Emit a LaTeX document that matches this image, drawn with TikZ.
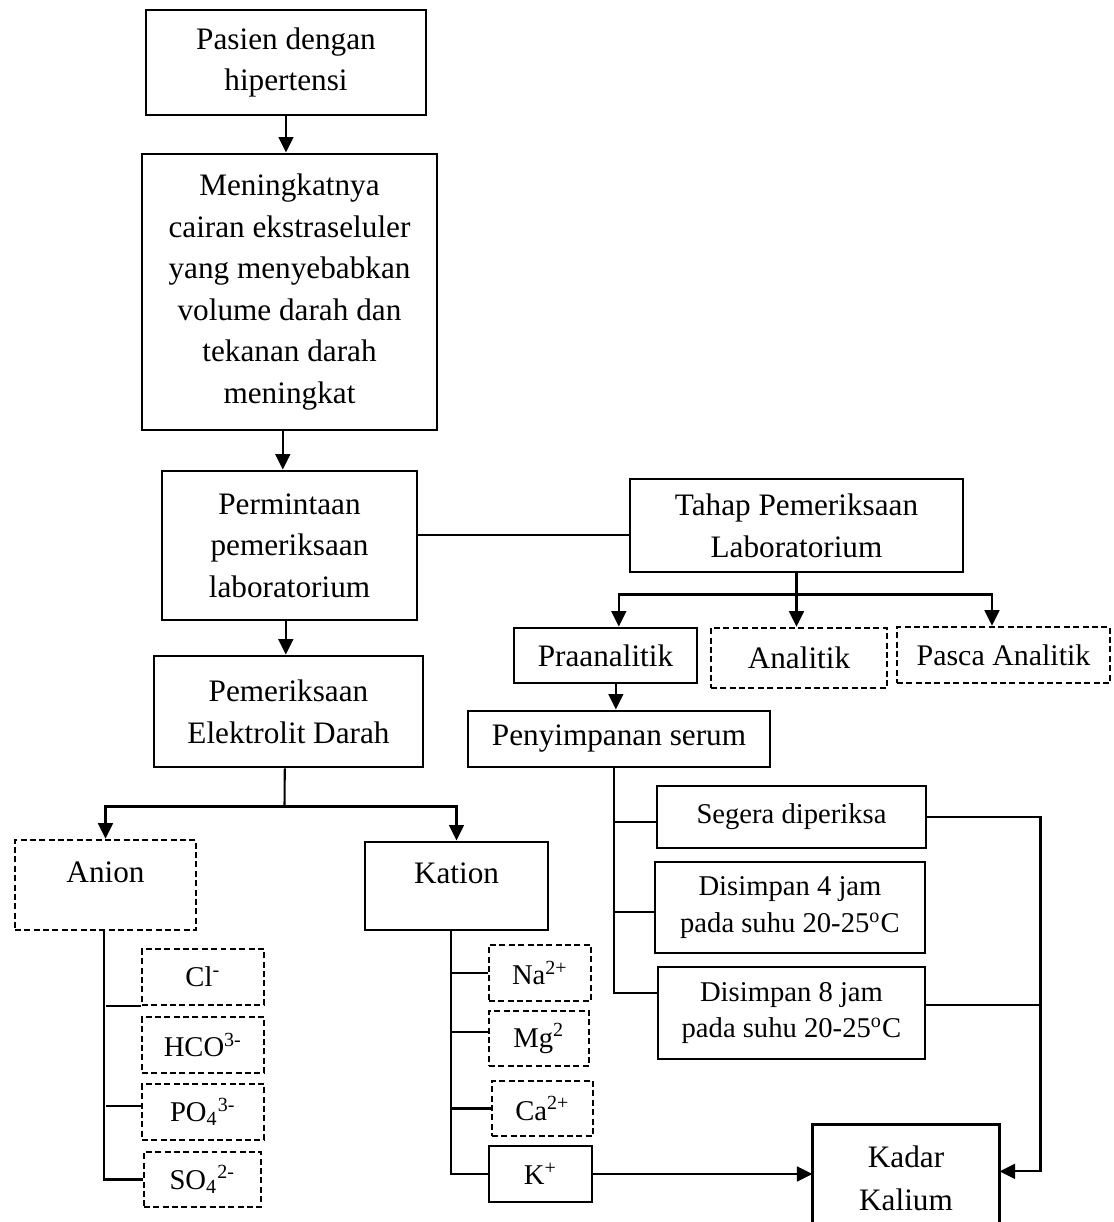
\documentclass[tikz,border=0pt]{standalone}
\usepackage{fontspec}
\setmainfont{Liberation Serif}
\usetikzlibrary{arrows.meta,positioning,calc}

\begin{document}
\begin{tikzpicture}[
  x=0.0135cm, y=-0.0135cm,
  box/.style={draw, line width=1.1pt, align=center, inner sep=0pt, font=\fontsize{12}{16}\selectfont},
  dbox/.style={box, line width=0.95pt, dash pattern=on 2.3pt off 1.3pt},
  small/.style={font=\fontsize{11}{14.2}\selectfont},
  sz/.style 2 args={minimum width=#1*0.0135cm, minimum height=#2*0.0135cm},
  arr/.style={-{Triangle[length=2.1mm,width=2mm]}, line width=0.85pt},
  line/.style={line width=0.8pt}
]
\useasboundingbox (0,0) rectangle (1113,1222);

% ================= MAIN CHAIN =================
\node[box, sz={280}{105}] (pasien) at (286,62.5) {Pasien dengan\\hipertensi};
\node[box, sz={295}{276}] (naik) at (289.5,292) {Meningkatnya\\cairan ekstraseluler\\yang menyebabkan\\volume darah dan\\tekanan darah\\meningkat};
\node[box, sz={255}{149}] (minta) at (289.5,545.5) {Permintaan\\pemeriksaan\\laboratorium};
\node[box, sz={269}{111}] (elek) at (288.5,711.5) {Pemeriksaan\\Elektrolit Darah};

\draw[arr] (pasien.south) -- (pasien.south |- naik.north);
\draw[arr] ([xshift=-0.09cm]naik.south) -- ([xshift=-0.09cm]naik.south |- minta.north);
\draw[arr] ([xshift=-0.05cm]minta.south) -- ([xshift=-0.05cm]minta.south |- elek.north);

% --- anion / kation ---
\node[dbox, sz={181}{90}, text height=0.3cm, text depth=0.36cm] (anion) at (105.5,885) {Anion};
\node[box, sz={183}{88}, text height=0.3cm, text depth=0.36cm] (kation) at (456.5,886) {Kation};

\coordinate (ebar) at ($(elek.south)+(-4,38)$);
\draw[line] ([xshift=-0.05cm]elek.south) -- (ebar);
\draw[arr] (ebar) -| (anion.north);
\draw[arr] (ebar) -| (kation.north);

\node[dbox, small, sz={122}{56}] (cl) at (203,977) {Cl\textsuperscript{-}};
\node[dbox, small, sz={122}{56}] (hco) at (203,1045) {HCO\textsuperscript{3-}};
\node[dbox, small, sz={122}{56}] (po) at (203,1112) {PO\textsubscript{4}\textsuperscript{3-}};
\node[dbox, small, sz={117}{55}] (so) at (202.5,1179.5) {SO\textsubscript{4}\textsuperscript{2-}};

\draw[line] ([xshift=-0.02cm]anion.south) |- (so.west);
\draw[line] (cl.south west) -- (cl.south west -| anion.south);
\draw[line] ([yshift=0.08cm]po.west) -- ([yshift=0.08cm]po.west -| anion.south);

\node[dbox, small, sz={102}{56}] (na) at (540,973) {Na\textsuperscript{2+}};
\node[dbox, small, sz={100}{55}] (mg) at (539,1038.5) {Mg\textsuperscript{2}};
\node[dbox, small, sz={101}{55}] (ca) at (542.5,1108.5) {Ca\textsuperscript{2+}};
\node[box, small, sz={103}{56}] (kp) at (540.5,1174) {K\textsuperscript{+}};

\coordinate (kv) at ([xshift=-0.08cm]kation.south);
\draw[line] (kv) |- (kp.west);
\draw[line] (na.west) -- (na.west -| kv);
\draw[line] ([yshift=0.09cm]mg.west) -- ([yshift=0.09cm]mg.west -| kv);
\draw[line] (ca.west) -- (ca.west -| kv);

% ================= LAB STAGES =================
\node[box, sz={333}{93}] (tahap) at (796.5,525.5) {Tahap Pemeriksaan\\Laboratorium};
\draw[line] ([yshift=-0.13cm]tahap.west) -- ([yshift=-0.13cm]tahap.west -| minta.east);

\node[box, sz={183}{55}] (pra) at (605.5,655.5) {Praanalitik};
\node[dbox, sz={176}{60}] (ana) at (799,658) {Analitik};
\node[dbox, sz={213}{56}, font=\fontsize{11.5}{14}\selectfont] (pasca) at (1003.5,655) {Pasca Analitik};

\coordinate (tbar) at ($(tahap.south)+(0,21)$);
\draw[line] (tahap.south) -- (tbar);
\draw[arr] (tbar) -- (tbar |- ana.north);
\draw[arr] (tbar) -| ([xshift=0.18cm]pra.north);
\draw[arr] (tbar) -| ([xshift=-0.155cm]pasca.north);

\node[box, sz={302}{56}] (simpan) at (619,739) {Penyimpanan serum};
\draw[arr] ([xshift=0.14cm]pra.south) -- ([xshift=0.14cm]pra.south |- simpan.north);

% --- storage options ---
\node[box, small, sz={269}{62}] (segera) at (791.5,817) {Segera diperiksa};
\node[box, small, sz={270}{91}] (jam4) at (790,907.5) {Disimpan 4 jam\\pada suhu 20-25\textsuperscript{o}C};
\node[box, small, sz={267}{92}] (jam8) at (791.5,1013) {Disimpan 8 jam\\pada suhu 20-25\textsuperscript{o}C};

\coordinate (sv) at ([xshift=-0.07cm]simpan.south);
\draw[line] (sv) |- ([yshift=0.27cm]jam8.west);
\draw[line] ([yshift=-0.07cm]segera.west) -- ([yshift=-0.07cm]segera.west -| sv);
\draw[line] ([yshift=-0.06cm]jam4.west) -- ([yshift=-0.06cm]jam4.west -| sv);

% --- result ---
\node[align=center, inner sep=0pt, sz={186}{106}, font=\fontsize{12}{16.5}\selectfont] (kadar) at (906,1178) {Kadar\\Kalium};
\draw[line width=1.1pt] (kadar.west |- 0,1260) |- (kadar.north east) -- (kadar.east |- 0,1260);

\coordinate (rv) at ($(segera.east)+(113,0)$);
\draw[arr] (segera.east) -- (rv) |- ([yshift=0.09cm]kadar.east);
\draw[line] ([yshift=0.11cm]jam8.east) -- ([yshift=0.11cm]jam8.east -| rv);
\draw[arr] (kp.east) -- (kp.east -| kadar.west);
\end{tikzpicture}
\end{document}
